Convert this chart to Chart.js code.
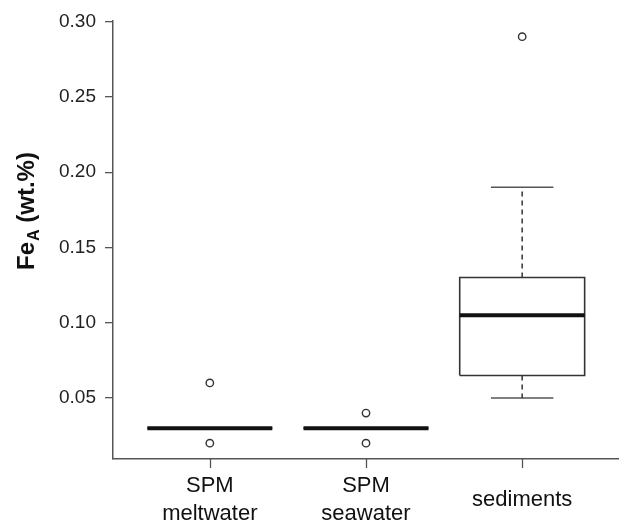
<!DOCTYPE html>
<html>
<head>
<meta charset="utf-8">
<title>FeA boxplot</title>
<script src="https://cdn.jsdelivr.net/npm/chart.js@4"></script>
<style>
  html, body { margin: 0; padding: 0; background: #fff; overflow: hidden; }
  #wrap { width: 619px; height: 526px; position: relative; }
  #feChart { display: block; }
</style>
</head>
<body>
<div id="wrap"><canvas id="feChart"></canvas></div>
<script>
// box statistics per group (wt.%)
const groups = [['SPM', 'meltwater'], ['SPM', 'seawater'], 'sediments'];
const lowerWhisker = [0.03, 0.03, 0.05];
const q1 = [0.03, 0.03, 0.065];
const median = [0.03, 0.03, 0.105];
const q3 = [0.03, 0.03, 0.13];
const upperWhisker = [0.03, 0.03, 0.19];
const outliers = [[0.06, 0.02], [0.04, 0.02], [0.29]];
const yTicks = [0.05, 0.10, 0.15, 0.20, 0.25, 0.30];

const boxHalf = 0.4;
const capHalf = 0.2;
const lineCol = '#333';

const datasets = [];

groups.forEach((g, i) => {
  const x = i + 1;
  // outlier circles
  datasets.push({
    data: outliers[i].map(v => ({ x: x, y: v })),
    showLine: false,
    pointRadius: 3.7,
    pointBackgroundColor: '#fff',
    pointBorderColor: '#333',
    pointBorderWidth: 1.4,
    order: 0
  });
  // median
  datasets.push({
    data: [{ x: x - boxHalf, y: median[i] }, { x: x + boxHalf, y: median[i] }],
    showLine: true,
    borderColor: '#111',
    borderWidth: 4,
    pointRadius: 0,
    order: 1
  });
  // box
  datasets.push({
    data: [
      { x: x - boxHalf, y: q1[i] }, { x: x + boxHalf, y: q1[i] },
      { x: x + boxHalf, y: q3[i] }, { x: x - boxHalf, y: q3[i] },
      { x: x - boxHalf, y: q1[i] }
    ],
    showLine: true,
    borderColor: lineCol,
    borderWidth: 1.6,
    pointRadius: 0,
    order: 2
  });
  // whiskers (dashed)
  [[q3[i], upperWhisker[i]], [q1[i], lowerWhisker[i]]].forEach(([a, b]) => {
    datasets.push({
      data: [{ x: x, y: a }, { x: x, y: b }],
      showLine: true,
      borderColor: lineCol,
      borderWidth: 1.5,
      borderDash: [5, 4],
      pointRadius: 0,
      order: 3
    });
  });
  // whisker caps
  [upperWhisker[i], lowerWhisker[i]].forEach(v => {
    datasets.push({
      data: [{ x: x - capHalf, y: v }, { x: x + capHalf, y: v }],
      showLine: true,
      borderColor: '#555',
      borderWidth: 1.6,
      pointRadius: 0,
      order: 3
    });
  });
});

// rotated y title with subscript A
const yTitle = {
  id: 'yTitle',
  afterDraw(chart) {
    const ctx = chart.ctx;
    ctx.save();
    ctx.translate(34, 270);
    ctx.rotate(-Math.PI / 2);
    ctx.fillStyle = '#111';
    ctx.textBaseline = 'alphabetic';
    ctx.font = 'bold 24px "Liberation Sans", Arial, sans-serif';
    ctx.fillText('Fe', 0, 0);
    let w = ctx.measureText('Fe').width;
    ctx.font = 'bold 16px "Liberation Sans", Arial, sans-serif';
    ctx.fillText('A', w + 1, 5);
    w += ctx.measureText('A').width + 1;
    ctx.font = 'bold 24px "Liberation Sans", Arial, sans-serif';
    ctx.fillText(' (wt.%)', w, 0);
    ctx.restore();
  }
};

// tick marks under each group, placed from the x scale
const xTickMarks = {
  id: 'xTickMarks',
  afterDraw(chart) {
    const xs = chart.scales.x;
    const ctx = chart.ctx;
    ctx.save();
    ctx.strokeStyle = '#555';
    ctx.lineWidth = 1.3;
    xs.ticks.forEach(t => {
      const px = Math.round(xs.getPixelForValue(t.value)) + 0.5;
      ctx.beginPath();
      ctx.moveTo(px, xs.top);
      ctx.lineTo(px, xs.top + 9);
      ctx.stroke();
    });
    ctx.restore();
  }
};

const ctx = document.getElementById('feChart').getContext('2d');
const feChart = new Chart(ctx, {
  type: 'scatter',
  data: { datasets: datasets },
  options: {
    responsive: true,
    maintainAspectRatio: false,
    animation: false,
    layout: { autoPadding: false, padding: { top: 19, right: 0, bottom: 0, left: 0 } },
    plugins: {
      legend: { display: false },
      tooltip: { enabled: false }
    },
    scales: {
      x: {
        type: 'linear',
        min: 0.38,
        max: 3.62,
        afterBuildTicks: axis => { axis.ticks = [1, 2, 3].map(v => ({ value: v })); },
        afterFit: axis => {
          axis.height = 67;
          axis.paddingLeft = 0;
          axis.paddingRight = 0;
        },
        border: { display: true, color: '#555', width: 1.5 },
        grid: { drawOnChartArea: false, tickLength: 9, tickColor: 'rgba(0,0,0,0)' },
        ticks: {
          autoSkip: false,
          maxRotation: 0,
          crossAlign: 'center',
          padding: 18,
          color: '#111',
          font: { family: '"Liberation Sans", Arial, sans-serif', size: 22, lineHeight: 1.25 },
          callback: v => groups[v - 1]
        }
      },
      y: {
        type: 'linear',
        min: 0.0095,
        max: 0.3008,
        afterBuildTicks: axis => { axis.ticks = yTicks.map(v => ({ value: v })); },
        afterFit: axis => { axis.width = 113; },
        border: { display: true, color: '#555', width: 1.5 },
        grid: { drawOnChartArea: false, tickLength: 8, color: '#555', lineWidth: 1.3 },
        ticks: {
          padding: 9,
          color: '#222',
          font: { family: '"Liberation Sans", Arial, sans-serif', size: 19 },
          callback: v => v.toFixed(2)
        }
      }
    }
  },
  plugins: [yTitle, xTickMarks]
});
</script>
</body>
</html>
